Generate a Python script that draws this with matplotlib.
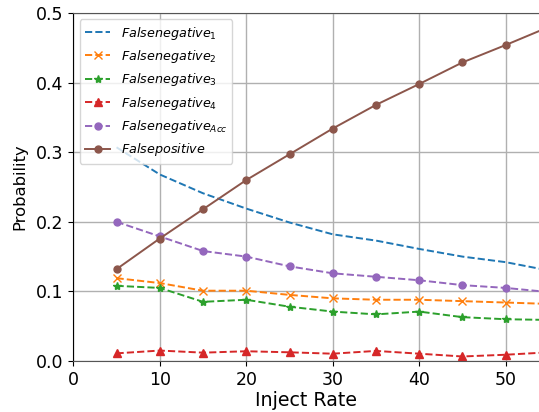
import numpy as np
import matplotlib
matplotlib.use("Agg")
import matplotlib.pyplot as plt

inject_rate = [5, 10, 15, 20, 25, 30, 35, 40, 45, 50, 55]
fn_1 = [0.307, 0.268, 0.241, 0.219, 0.199, 0.182, 0.173, 0.161, 0.150, 0.142, 0.130]
fn_2 = [0.119, 0.112, 0.101, 0.101, 0.095, 0.090, 0.088, 0.088, 0.086, 0.084, 0.082]
fn_3 = [0.108, 0.105, 0.085, 0.088, 0.078, 0.071, 0.067, 0.071, 0.063, 0.060, 0.059]
fn_4 = [0.011, 0.015, 0.012, 0.014, 0.0125, 0.0105, 0.0145, 0.0105, 0.0065, 0.009, 0.0125]
fn_acc = [0.200, 0.179, 0.158, 0.150, 0.136, 0.126, 0.121, 0.116, 0.109, 0.105, 0.099]
fp = [0.132, 0.176, 0.218, 0.260, 0.297, 0.334, 0.368, 0.398, 0.429, 0.454, 0.480]

labels = [r'$Falsenegative_1$', r'$Falsenegative_2$', r'$Falsenegative_3$',
          r'$Falsenegative_4$', r'$Falsenegative_{Acc}$', r'$Falsepositive$']

fig = plt.figure(figsize=(5.39, 4.12), dpi=100)
ax = fig.add_axes([73.3/539, 51/412, 1 - 73.3/539, (361-13)/412])

lw = 1.4
ax.plot(inject_rate, fn_1, '--', color='#1f77b4', lw=lw, label=labels[0])
ax.plot(inject_rate, fn_2, '--x', color='#ff7f0e', lw=lw, ms=6, label=labels[1])
ax.plot(inject_rate, fn_3, '--*', color='#2ca02c', lw=lw, ms=6, label=labels[2])
ax.plot(inject_rate, fn_4, '--^', color='#d62728', lw=lw, ms=5.5, label=labels[3])
ax.plot(inject_rate, fn_acc, '--o', color='#9467bd', lw=lw, ms=5, label=labels[4])
ax.plot(inject_rate, fp, '-o', color='#8c564b', lw=lw, ms=5, label=labels[5])

ax.set_xlim(0, 53.85)
ax.set_ylim(0, 0.5)
ax.set_xticks([0, 10, 20, 30, 40, 50])
ax.set_yticks([0.0, 0.1, 0.2, 0.3, 0.4, 0.5])
ax.tick_params(labelsize=12.5)
ax.grid(True, color='#b0b0b0', lw=1)
ax.set_axisbelow(True)

ax.spines['right'].set_visible(False)
ax.spines['top'].set_color('#555555')
ax.spines['bottom'].set_color('#555555')
ax.spines['left'].set_color('black')

ax.set_xlabel('Inject Rate', fontsize=13.7, labelpad=1.5)
ax.set_ylabel('Probability', fontsize=11.8, labelpad=6)

ax.legend(loc='upper left', fontsize=9.2)

fig.savefig('out.png', dpi=100)
